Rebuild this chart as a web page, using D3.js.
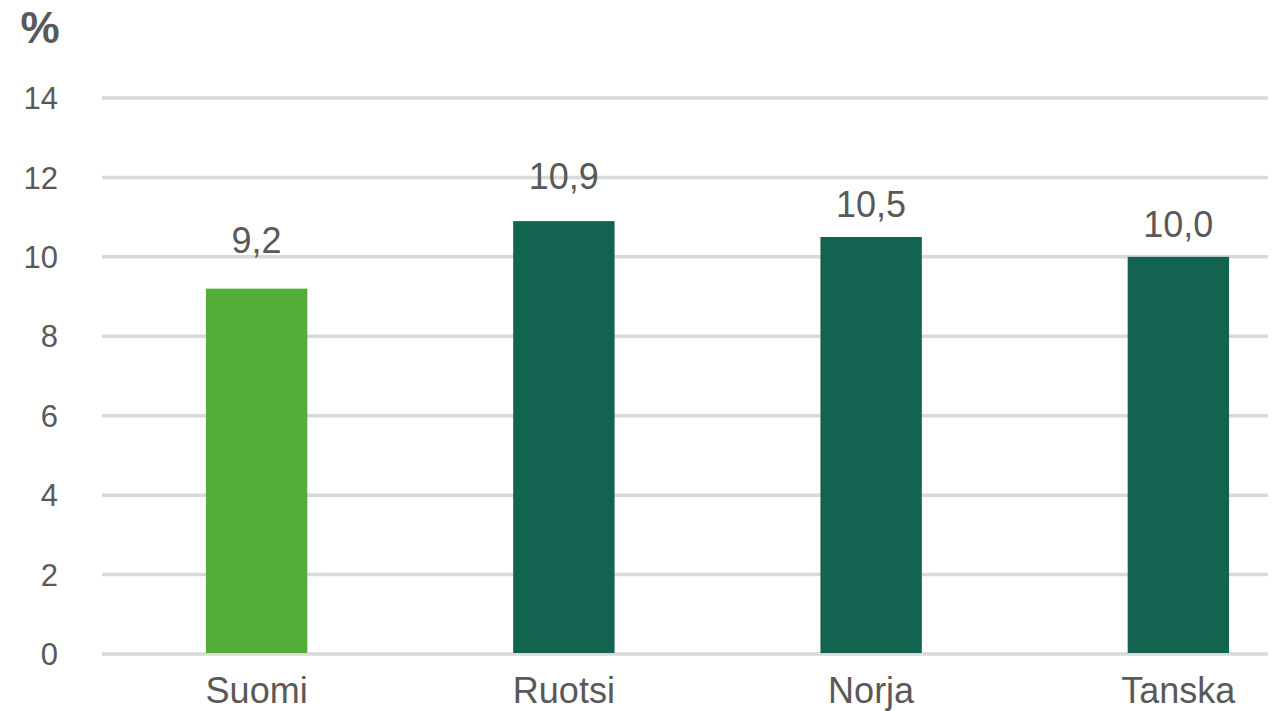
<!DOCTYPE html>
<html>
<head>
<meta charset="utf-8">
<script src="https://cdn.jsdelivr.net/npm/d3@7"></script>
<style>
  body { margin: 0; background: #fff; }
  svg { display: block; }
</style>
</head>
<body>
<div class="chart"></div>
<script>
const categories = ["Suomi", "Ruotsi", "Norja", "Tanska"];
const values = [9.2, 10.9, 10.5, 10.0];
const valueLabels = ["9,2", "10,9", "10,5", "10,0"];
const yTicks = [0, 2, 4, 6, 8, 10, 12, 14];

// label distance above bar top (labels were nudged by hand in the original)
const labelGap = [36, 32, 20, 20];

const width = 1284;
const height = 711;
const colors = ["#54ad3b", "#12634f", "#12634f", "#12634f"];

const svg = d3.select(".chart").append("svg")
  .attr("width", width)
  .attr("height", height);

const y = d3.scaleLinear()
  .domain([0, 14])
  .range([654, 98]);

const x = d3.scaleBand()
  .domain(categories)
  .range([103, 1332])
  .paddingInner(0.67)
  .paddingOuter(0.335);

// gridlines
svg.append("g")
  .selectAll("line")
  .data(yTicks)
  .enter()
  .append("line")
  .attr("x1", 102)
  .attr("x2", 1268)
  .attr("y1", d => y(d))
  .attr("y2", d => y(d))
  .attr("stroke", "#d9d9d9")
  .attr("stroke-width", 3.5);

// y tick labels
svg.append("g")
  .selectAll("text")
  .data(yTicks)
  .enter()
  .append("text")
  .attr("x", 58)
  .attr("y", d => y(d))
  .attr("dy", "0.36em")
  .attr("text-anchor", "end")
  .style("font-family", "Liberation Sans, Arial, sans-serif")
  .style("font-size", "31px")
  .attr("fill", "#595959")
  .text(d => d);

svg.append("text")
  .attr("x", 40)
  .attr("y", 43)
  .attr("text-anchor", "middle")
  .style("font-family", "Liberation Sans, Arial, sans-serif")
  .style("font-size", "44px")
  .style("font-weight", "bold")
  .attr("fill", "#595959")
  .text("%");

// bars
svg.append("g")
  .selectAll("rect")
  .data(values)
  .enter()
  .append("rect")
  .attr("x", (d, i) => x(categories[i]))
  .attr("width", x.bandwidth())
  .attr("y", d => y(d))
  .attr("height", d => y(0) - y(d) - 1)
  .attr("fill", (d, i) => colors[i]);

// value labels
svg.append("g")
  .selectAll("text")
  .data(values)
  .enter()
  .append("text")
  .attr("x", (d, i) => x(categories[i]) + x.bandwidth() / 2)
  .attr("y", (d, i) => y(d) - labelGap[i])
  .attr("text-anchor", "middle")
  .style("font-family", "Liberation Sans, Arial, sans-serif")
  .style("font-size", "36px")
  .attr("fill", "#595959")
  .text((d, i) => valueLabels[i]);

// category labels
svg.append("g")
  .selectAll("text")
  .data(categories)
  .enter()
  .append("text")
  .attr("x", d => x(d) + x.bandwidth() / 2)
  .attr("y", 703)
  .attr("text-anchor", "middle")
  .style("font-family", "Liberation Sans, Arial, sans-serif")
  .style("font-size", "36px")
  .attr("fill", "#595959")
  .text(d => d);
</script>
</body>
</html>
